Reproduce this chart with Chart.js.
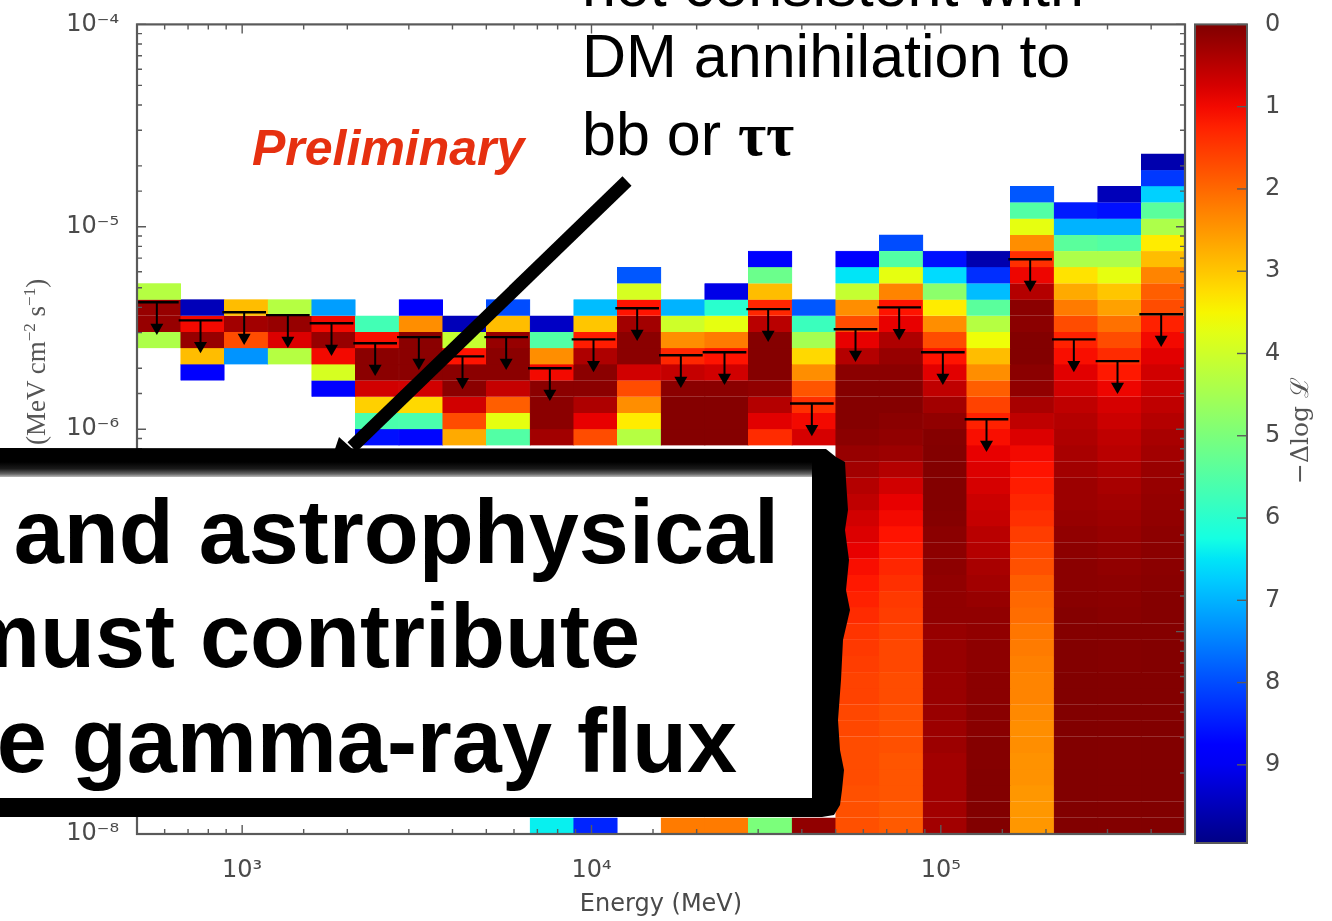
<!DOCTYPE html>
<html>
<head>
<meta charset="utf-8">
<title>Upper limits</title>
<script src="https://cdn.jsdelivr.net/npm/chart.js@4"></script>
<style>
    html, body { margin: 0; padding: 0; background: #fff; overflow: hidden; }
    body { position: relative; width: 1332px; height: 921px; }
    canvas { position: absolute; filter: blur(0.7px); }
    #chartFlux { left: 0; top: 0; }
    #chartScale { left: 1190px; top: 0; }
    #notes { position: absolute; left: 0; top: 0; }
</style>
</head>
<body>
<canvas id="chartFlux" width="1332" height="921"></canvas>
<canvas id="chartScale" width="142" height="921"></canvas>

<svg id="notes" width="1332" height="921" xmlns="http://www.w3.org/2000/svg">
    <defs>
        <linearGradient id="frameEdge" x1="0" y1="0" x2="0" y2="1">
            <stop offset="0" stop-color="#000"/>
            <stop offset="0.45" stop-color="#1a1a1a"/>
            <stop offset="0.8" stop-color="#666"/>
            <stop offset="1" stop-color="#bbb"/>
        </linearGradient>
    </defs>

    <g style="filter: blur(0.7px)" fill="#555">
        <text transform="translate(45 445) rotate(-90)" font-family="Liberation Serif" font-size="27">(MeV cm<tspan font-size="17" dy="-10">−2</tspan><tspan dy="10"> s</tspan><tspan font-size="17" dy="-10">−1</tspan><tspan dy="10">)</tspan></text>
        <text transform="translate(1308 484) rotate(-90)" font-family="DejaVu Serif" font-size="25">−Δlog ℒ</text>
        <text x="252" y="165" font-family="Liberation Sans" font-weight="bold" font-style="italic" font-size="50" fill="#e63010">Preliminary</text>
    </g>

    <g font-family="Liberation Sans" font-size="61" fill="#000">
        <text x="582" y="6">not consistent with</text>
        <text x="582" y="77">DM annihilation to</text>
        <text x="582" y="155">bb or <tspan font-family="Liberation Serif" font-weight="bold">ττ</tspan></text>
    </g>

    <!-- arrow from the note into the box -->
    <line x1="627" y1="181" x2="352" y2="447" stroke="#000" stroke-width="13"/>
    <polygon points="329,467 339,437 370,465" fill="#000"/>

    <!-- rough black frame of the text box, runs off the left side -->
    <polygon fill="#000" points="0,448 826,449 836,457 845,462 846,480 848,510 845,530 849,560 846,590 850,610 843,640 841,680 838,720 840,750 844,770 842,790 840,805 834,815 822,817 0,817"/>
    <rect x="0" y="462" width="812" height="15" fill="url(#frameEdge)"/>
    <rect x="0" y="477" width="812" height="321" fill="#fff"/>
    <g font-family="Liberation Sans" font-weight="bold" font-size="90" fill="#000" text-anchor="end">
        <text x="779" y="563">and astrophysical</text>
        <text x="640" y="667">must contribute</text>
        <text x="737" y="772">e gamma-ray flux</text>
    </g>
</svg>

<script>
// Energy bins (8 per decade) and flux rows (0.08 decade each), row 0 at the top
const energyMin = 500;
const energyMax = 500000;
const binsPerDecade = 8;
const fluxMin = 1e-8;
const fluxMax = 1e-4;
const rowCount = 50;

// First row filled in each energy bin
const firstRow = [16, 17, 17, 17, 17, 18, 17, 18, 17, 18, 17, 15, 17, 16, 14, 17, 14, 13, 14, 14, 10, 11, 10, 8];

// -Delta log L per row, from firstRow downwards
const bin00 = [4.3, 0.2, 0.2, 4.4];
const bin01 = [9.5, 1.0, 0.2, 2.9, 8.8];
const bin02 = [2.9, 0.3, 1.7, 7.3];
const bin03 = [4.3, 0.2, 0.8, 4.3];
const bin04 = [7.2, 1.0, 0.2, 1.0, 3.9, 8.8];
const bin05 = [5.7, 1.05, 0.1, 0.1, 0.7, 3.1, 5.6, 8.6];
const bin06 = [8.9, 2.4, 0.1, 0.1, 0.1, 0.7, 3.2, 5.6, 8.7];
const bin07 = [9.5, 4.1, 1.1, 0.1, 0.1, 0.7, 1.7, 2.7];
const bin08 = [8.0, 2.9, 0.2, 0.1, 0.1, 0.6, 1.9, 3.7, 5.5];
const bin09 = [9.4, 5.5, 2.4, 1.0, 0.1, 0.1, 0.1, 0.3];
const bin10 = [6.9, 3.0, 1.2, 0.4, 0.1, 0.1, 0.4, 0.9, 1.7];
const bin11 = [7.9, 3.9, 1.1, 0.3, 0.1, 0.1, 0.7, 1.7, 2.4, 3.4, 4.3];
const bin12 = [7.0, 4.0, 2.4, 1.3, 0.6, 0.1, 0.05, 0.05, 0.05];
const bin13 = [9.1, 6.0, 3.7, 2.2, 1.1, 0.7, 0.1, 0.05, 0.05, 0.05];
const bin14 = [8.8, 5.2, 2.9, 1.3, 0.5, 0.05, 0.05, 0.05, 0.15, 0.45, 0.85, 1.35];
const bin15 = [7.9, 5.8, 4.5, 3.2, 2.4, 1.8, 1.4, 1.0, 0.75];
const bin16 = [8.8, 6.5, 4.1, 2.4, 1.7, 0.9, 0.45, 0.1, 0.05, 0.05, 0.05, 0.1, 0.2, 0.3, 0.45, 0.55, 0.7, 0.8, 0.9, 1.05, 1.15, 1.25, 1.35, 1.45, 1.5, 1.55, 1.6, 1.6, 1.65, 1.65, 1.7, 1.7, 1.7, 1.75, 1.75, 1.75];
const bin17 = [8.0, 5.5, 3.7, 2.3, 1.1, 0.9, 0.4, 0.2, 0.1, 0.05, 0.05, 0.1, 0.15, 0.25, 0.45, 0.7, 0.9, 1.0, 1.1, 1.2, 1.3, 1.4, 1.5, 1.55, 1.6, 1.65, 1.65, 1.7, 1.7, 1.75, 1.75, 1.75, 1.8, 1.8, 1.8, 1.85, 1.85];
const bin18 = [8.6, 6.6, 4.8, 3.4, 2.4, 1.7, 1.1, 0.85, 0.55, 0.3, 0.15, 0.05, 0.03, 0.03, 0.03, 0.03, 0.05, 0.1, 0.12, 0.12, 0.15, 0.15, 0.15, 0.2, 0.2, 0.2, 0.22, 0.22, 0.22, 0.25, 0.25, 0.3, 0.3, 0.3, 0.3, 0.3];
const bin19 = [9.6, 8.3, 6.9, 5.4, 4.3, 3.6, 2.9, 2.4, 1.9, 1.6, 1.25, 1.05, 0.9, 0.8, 0.75, 0.65, 0.6, 0.5, 0.45, 0.35, 0.3, 0.2, 0.15, 0.15, 0.12, 0.12, 0.1, 0.1, 0.08, 0.08, 0.05, 0.05, 0.03, 0.03, 0.02, 0.02];
const bin20 = [7.9, 5.5, 3.7, 2.4, 1.4, 0.95, 0.45, 0.1, 0.1, 0.03, 0.03, 0.1, 0.15, 0.35, 0.55, 0.8, 1.0, 1.1, 1.2, 1.3, 1.4, 1.55, 1.65, 1.75, 1.9, 2.0, 2.05, 2.15, 2.2, 2.25, 2.3, 2.3, 2.35, 2.4, 2.4, 2.45, 2.45, 2.5, 2.5, 2.5];
const bin21 = [8.5, 7.0, 5.4, 4.4, 3.3, 2.7, 2.2, 1.7, 1.25, 1.05, 0.85, 0.7, 0.55, 0.45, 0.4, 0.35, 0.3, 0.25, 0.25, 0.2, 0.15, 0.12, 0.1, 0.1, 0.08, 0.05, 0.05, 0.03, 0.03, 0.02, 0.02, 0.02, 0.02, 0.02, 0.02, 0.02, 0.02, 0.02, 0.02];
const bin22 = [9.5, 8.6, 7.0, 5.5, 4.4, 3.7, 3.0, 2.6, 2.1, 1.7, 1.35, 1.15, 0.95, 0.75, 0.65, 0.55, 0.5, 0.4, 0.35, 0.3, 0.25, 0.2, 0.17, 0.15, 0.12, 0.1, 0.08, 0.05, 0.05, 0.05, 0.03, 0.03, 0.03, 0.03, 0.03, 0.03, 0.03, 0.03, 0.03, 0.03];
const bin23 = [9.6, 8.2, 6.7, 5.4, 4.4, 3.4, 2.9, 2.3, 1.9, 1.7, 1.25, 1.0, 0.85, 0.7, 0.65, 0.55, 0.45, 0.35, 0.3, 0.22, 0.2, 0.18, 0.15, 0.12, 0.1, 0.1, 0.08, 0.05, 0.05, 0.05, 0.03, 0.03, 0.03, 0.03, 0.03, 0.02, 0.02, 0.02, 0.02, 0.02, 0.02, 0.02];
const bins = [bin00, bin01, bin02, bin03, bin04, bin05, bin06, bin07, bin08, bin09, bin10, bin11,
    bin12, bin13, bin14, bin15, bin16, bin17, bin18, bin19, bin20, bin21, bin22, bin23];

// Lowest row, the only part showing under the text box in the middle bins
const lowestRow = [null, null, null, null, null, null, null, null, null, 6.4, 8.4, null,
    2.2, 2.2, 5.0, 0.15, null, null, null, null, null, null, null, null];

// 95% upper limits, MeV cm^-2 s^-1
const upperLimits = [4.24e-6, 3.45e-6, 3.78e-6, 3.66e-6, 3.34e-6, 2.66e-6, 2.85e-6, 2.29e-6,
    2.85e-6, 2.00e-6, 2.78e-6, 3.96e-6, 2.32e-6, 2.40e-6, 3.92e-6, 1.34e-6,
    3.12e-6, 4.00e-6, 2.40e-6, 1.12e-6, 6.91e-6, 2.78e-6, 2.17e-6, 3.70e-6];

const SUPER = { '-': '⁻', 0: '⁰', 1: '¹', 2: '²', 3: '³', 4: '⁴', 5: '⁵', 6: '⁶', 7: '⁷', 8: '⁸', 9: '⁹' };
const TEXT_COLOR = '#4a4a4a';
const AXIS_COLOR = '#5a5a5a';

function lerp(stops, t) {
    for (let i = 1; i < stops.length; i++) {
        if (t <= stops[i][0]) {
            const [a, av] = stops[i - 1];
            const [b, bv] = stops[i];
            return av + (bv - av) * (t - a) / (b - a);
        }
    }
    return stops[stops.length - 1][1];
}

// matplotlib's jet, 0 is dark red at the top of the colour bar
function jet(value) {
    const t = 1 - value / 10;
    const r = lerp([[0, 0], [0.35, 0], [0.66, 1], [0.89, 1], [1, 0.5]], t);
    const g = lerp([[0, 0], [0.125, 0], [0.375, 1], [0.64, 1], [0.91, 0], [1, 0]], t);
    const b = lerp([[0, 0.5], [0.11, 1], [0.34, 1], [0.65, 0], [1, 0]], t);
    return `rgb(${Math.round(r * 255)}, ${Math.round(g * 255)}, ${Math.round(b * 255)})`;
}

function powerLabel(value) {
    const exp = Math.log10(value);
    if (Math.abs(exp - Math.round(exp)) > 1e-6) return '';
    return '10' + String(Math.round(exp)).split('').map((c) => SUPER[c]).join('');
}

const rowEdge = (row) => fluxMax * Math.pow(10, -0.08 * row);
const binEdge = (i) => energyMin * Math.pow(10, i / binsPerDecade);

function cellValue(binIndex, row) {
    if (row === rowCount - 1 && lowestRow[binIndex] !== null) return lowestRow[binIndex];
    const v = bins[binIndex][row - firstRow[binIndex]];
    return v === undefined ? null : v;
}

// One floating-bar dataset per flux row
const cellDatasets = [];
for (let row = 0; row < rowCount; row++) {
    const values = bins.map((_, i) => cellValue(i, row));
    cellDatasets.push({
        type: 'bar',
        xAxisID: 'x',
        yAxisID: 'y',
        order: 2,
        data: values.map((v) => (v === null ? null : [rowEdge(row + 1), rowEdge(row)])),
        backgroundColor: values.map((v) => (v === null ? 'transparent' : jet(v))),
        borderColor: values.map((v) => (v === null ? 'transparent' : jet(v))),
        borderWidth: 0.4,
        barPercentage: 1,
        categoryPercentage: 1,
        grouped: false,
    });
}

// Upper limit caps, shafts and heads. They sit a touch left of the bin centres
const limitShift = Math.pow(10, -0.0057);
const arrowDrop = Math.pow(10, -0.125);
const capPoints = [];
const shaftPoints = [];
const headPoints = [];
upperLimits.forEach((limit, i) => {
    const mid = Math.sqrt(binEdge(i) * binEdge(i + 1)) * limitShift;
    capPoints.push({ x: binEdge(i) * limitShift, y: limit }, { x: binEdge(i + 1) * limitShift, y: limit }, { x: mid, y: null });
    shaftPoints.push({ x: mid, y: limit }, { x: mid, y: limit * arrowDrop }, { x: mid, y: null });
    headPoints.push({ x: mid, y: limit * arrowDrop });
});

const limitDataset = (data, extra) => ({
    type: 'scatter',
    xAxisID: 'xEnergy',
    yAxisID: 'y',
    order: 1,
    data: data,
    showLine: true,
    spanGaps: false,
    borderColor: '#000',
    pointRadius: 0,
    ...extra,
});

// Ticks point inward on all four sides, matplotlib style
const fluxFrame = {
    id: 'fluxFrame',
    afterDatasetsDraw(chart) {
        const { ctx, chartArea: a, scales } = chart;
        ctx.save();
        ctx.strokeStyle = AXIS_COLOR;
        ctx.lineWidth = 1.4;
        scales.xEnergy.ticks.forEach((tick) => {
            const x = scales.xEnergy.getPixelForValue(tick.value);
            const len = tick.major ? 9 : 5;
            ctx.beginPath();
            ctx.moveTo(x, a.top); ctx.lineTo(x, a.top + len);
            ctx.moveTo(x, a.bottom); ctx.lineTo(x, a.bottom - len);
            ctx.stroke();
        });
        scales.y.ticks.forEach((tick) => {
            const y = scales.y.getPixelForValue(tick.value);
            const len = tick.major ? 9 : 5;
            ctx.beginPath();
            ctx.moveTo(a.left, y); ctx.lineTo(a.left + len, y);
            ctx.moveTo(a.right, y); ctx.lineTo(a.right - len, y);
            ctx.stroke();
        });
        ctx.lineWidth = 2.2;
        ctx.strokeRect(a.left, a.top, a.right - a.left, a.bottom - a.top);
        ctx.restore();
    },
};

new Chart(document.getElementById('chartFlux').getContext('2d'), {
    data: {
        labels: bins.map((_, i) => String(i)),
        datasets: [
            ...cellDatasets,
            limitDataset(capPoints, { borderWidth: 2.4 }),
            limitDataset(shaftPoints, { borderWidth: 2 }),
            limitDataset(headPoints, { showLine: false, pointRadius: 7.5, pointStyle: 'triangle', rotation: 180, pointBackgroundColor: '#000', pointBorderWidth: 0 }),
        ],
    },
    options: {
        responsive: false,
        animation: false,
        layout: { padding: { top: 24, right: 147, left: 0, bottom: 0 } },
        plugins: { legend: { display: false }, tooltip: { enabled: false } },
        scales: {
            x: { type: 'category', display: false, offset: true, grid: { display: false } },
            xEnergy: {
                type: 'logarithmic',
                position: 'bottom',
                min: energyMin,
                max: energyMax,
                grid: { display: false },
                border: { display: false },
                afterFit(scale) { scale.height = 87; },
                ticks: {
                    autoSkip: false,
                    maxRotation: 0,
                    padding: 14,
                    color: TEXT_COLOR,
                    font: { family: 'DejaVu Sans', size: 24 },
                    callback: powerLabel,
                },
                title: {
                    display: true,
                    text: 'Energy (MeV)',
                    color: TEXT_COLOR,
                    font: { family: 'DejaVu Sans', size: 24 },
                    padding: { top: 0, bottom: 2 },
                },
            },
            y: {
                type: 'logarithmic',
                position: 'left',
                min: fluxMin,
                max: fluxMax,
                grid: { display: false },
                border: { display: false },
                afterFit(scale) { scale.width = 137; },
                ticks: {
                    autoSkip: false,
                    padding: 10,
                    color: TEXT_COLOR,
                    font: { family: 'DejaVu Sans', size: 24 },
                    callback: powerLabel,
                },
            },
        },
    },
    plugins: [fluxFrame],
});

// Colour bar
const scaleLevels = [[0, 10]];
const scaleStops = [0, 0.1, 0.2, 0.3, 0.4, 0.5, 0.6, 0.7, 0.8, 0.9, 1];

const scaleFrame = {
    id: 'scaleFrame',
    afterDatasetsDraw(chart) {
        const { ctx, chartArea: a, scales } = chart;
        ctx.save();
        ctx.strokeStyle = AXIS_COLOR;
        ctx.lineWidth = 1.4;
        scales.y.ticks.forEach((tick) => {
            if (!Number.isInteger(tick.value)) return;
            const y = scales.y.getPixelForValue(tick.value);
            ctx.beginPath();
            ctx.moveTo(a.right, y); ctx.lineTo(a.right - 10, y);
            ctx.stroke();
        });
        ctx.lineWidth = 2;
        ctx.strokeRect(a.left, a.top, a.right - a.left, a.bottom - a.top);
        ctx.restore();
    },
};

new Chart(document.getElementById('chartScale').getContext('2d'), {
    type: 'bar',
    data: {
        labels: [''],
        datasets: [{
            data: scaleLevels,
            barPercentage: 1,
            categoryPercentage: 1,
            backgroundColor(context) {
                const area = context.chart.chartArea;
                if (!area) return '#800000';
                const yScale = context.chart.scales.y;
                const grad = context.chart.ctx.createLinearGradient(0, yScale.getPixelForValue(0), 0, yScale.getPixelForValue(10));
                for (let i = 0; i <= 40; i++) grad.addColorStop(i / 40, jet(i / 4));
                return grad;
            },
        }],
    },
    options: {
        responsive: false,
        animation: false,
        layout: { padding: { top: 24, bottom: 78, left: 5, right: 0 } },
        plugins: { legend: { display: false }, tooltip: { enabled: false } },
        scales: {
            x: { display: false, offset: true, grid: { display: false } },
            y: {
                type: 'linear',
                position: 'right',
                reverse: true,
                min: 0,
                max: 9.95,
                grid: { display: false },
                border: { display: false },
                afterFit(scale) { scale.width = 85; },
                ticks: {
                    stepSize: 1,
                    includeBounds: false,
                    padding: 10,
                    color: TEXT_COLOR,
                    font: { family: 'DejaVu Sans', size: 24 },
                    callback: (value) => (Number.isInteger(value) ? String(value) : ''),
                },
            },
        },
    },
    plugins: [scaleFrame],
});
</script>
</body>
</html>
